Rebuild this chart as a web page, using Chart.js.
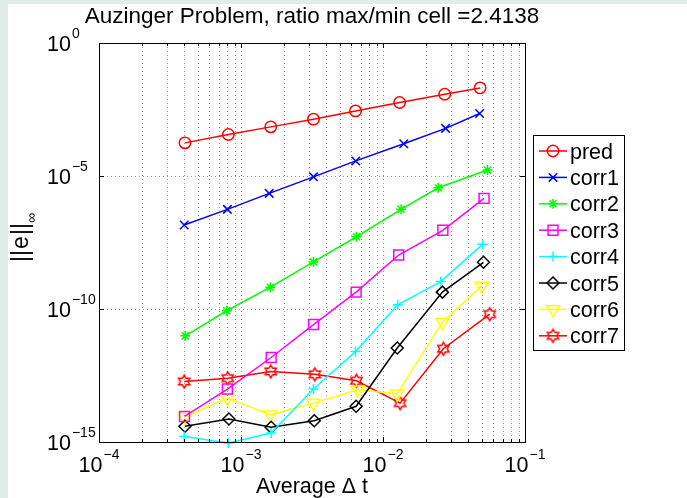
<!DOCTYPE html>
<html lang="en">

<head>
    <meta charset="UTF-8">
    <title>Auzinger Problem</title>
    <script src="https://cdn.jsdelivr.net/npm/chart.js"></script>
    <style>
        body { margin: 0; background: #ffffff; }
        canvas { display: block; }
    </style>
</head>

<body>
    <canvas id="errChart" width="687" height="498"></canvas>

    <script>
        // Average dt and max error per series
        const dtPred  = [4.03e-4, 8.15e-4, 1.62e-3, 3.24e-3, 6.40e-3, 1.31e-2, 2.72e-2, 4.83e-2];
        const errPred = [1.76e-4, 3.65e-4, 7.03e-4, 1.37e-3, 2.8e-3, 5.8e-3, 1.19e-2, 2.05e-2];
        const dtCorr1  = [3.98e-4, 8.02e-4, 1.58e-3, 3.24e-3, 6.43e-3, 1.40e-2, 2.76e-2, 4.79e-2];
        const errCorr1 = [1.44e-7, 5.57e-7, 2.22e-6, 9.3e-6, 3.69e-5, 1.64e-4, 6.18e-4, 2.24e-3];
        const dtCorr2  = [4.05e-4, 7.94e-4, 1.61e-3, 3.24e-3, 6.50e-3, 1.34e-2, 2.45e-2, 5.44e-2];
        const errCorr2 = [9.8e-12, 8.6e-11, 6.6e-10, 5.9e-9, 5.2e-8, 5.6e-7, 3.6e-6, 1.67e-5];
        const dtCorr3  = [4.0e-4, 8.02e-4, 1.63e-3, 3.24e-3, 6.47e-3, 1.29e-2, 2.64e-2, 5.15e-2];
        const errCorr3 = [9.1e-15, 9.8e-14, 1.5e-12, 2.6e-11, 4.3e-10, 1.07e-8, 9.1e-8, 1.44e-6];
        const dtCorr4  = [3.98e-4, 8.15e-4, 1.63e-3, 3.24e-3, 6.40e-3, 1.27e-2, 2.55e-2, 5.02e-2];
        const errCorr4 = [1.62e-15, 9.2e-16, 2.18e-15, 9.8e-14, 2.5e-12, 1.43e-10, 1.07e-9, 2.7e-8];
        const dtCorr5  = [4.03e-4, 8.22e-4, 1.63e-3, 3.28e-3, 6.47e-3, 1.26e-2, 2.62e-2, 5.10e-2];
        const errCorr5 = [3.9e-15, 7.3e-15, 3.6e-15, 6.3e-15, 2.2e-14, 3.4e-12, 4.3e-10, 5.7e-9];
        const dtCorr6  = [4.03e-4, 8.02e-4, 1.61e-3, 3.24e-3, 6.64e-3, 1.26e-2, 2.62e-2, 4.96e-2];
        const errCorr6 = [8.7e-15, 4.5e-14, 1.05e-14, 2.9e-14, 9.2e-14, 6.5e-14, 3.2e-11, 7.4e-10];
        const dtCorr7  = [3.98e-4, 8.07e-4, 1.62e-3, 3.31e-3, 6.50e-3, 1.32e-2, 2.66e-2, 5.65e-2];
        const errCorr7 = [1.88e-13, 2.5e-13, 4.5e-13, 3.5e-13, 2.0e-13, 2.9e-14, 3.2e-12, 6.4e-11];

        const seriesNames = ['pred', 'corr1', 'corr2', 'corr3', 'corr4', 'corr5', 'corr6', 'corr7'];
        const xTickExps = [-4, -3, -2, -1];
        const yTickExps = [-15, -10, -5, 0];

        const FONT = '"Liberation Sans", Arial, sans-serif';

        // MATLAB style hexagram marker
        function makeHexagram(color, r) {
            const size = Math.ceil(2 * r + 4);
            const c = document.createElement('canvas');
            c.width = size; c.height = size;
            const g = c.getContext('2d');
            const cx = size / 2, cy = size / 2, ri = r / Math.sqrt(3);
            g.beginPath();
            for (let k = 0; k < 12; k++) {
                const a = -Math.PI / 2 + k * Math.PI / 6;
                const rr = k % 2 === 0 ? r : ri;
                const px = cx + rr * Math.cos(a), py = cy + rr * Math.sin(a);
                if (k === 0) g.moveTo(px, py); else g.lineTo(px, py);
            }
            g.closePath();
            g.strokeStyle = color;
            g.lineWidth = 1.5;
            g.stroke();
            return c;
        }
        const hexRed = makeHexagram('#ff0000', 6.5);

        function zip(xs, ys) { return xs.map((x, i) => ({ x: x, y: ys[i] })); }

        const styles = [
            { color: '#ff0000', pointStyle: 'circle', radius: 5.7, rotation: 0 },
            { color: '#0000ff', pointStyle: 'crossRot', radius: 6, rotation: 0 },
            { color: '#00ff00', pointStyle: 'star', radius: 5, rotation: 0 },
            { color: '#ff00ff', pointStyle: 'rect', radius: 7, rotation: 0 },
            { color: '#00ffff', pointStyle: 'cross', radius: 5, rotation: 0 },
            { color: '#000000', pointStyle: 'rectRot', radius: 6, rotation: 0 },
            { color: '#ffff00', pointStyle: 'triangle', radius: 7.5, rotation: 180 },
            { color: '#ff0000', pointStyle: hexRed, radius: 6, rotation: 0 }
        ];
        const xs = [dtPred, dtCorr1, dtCorr2, dtCorr3, dtCorr4, dtCorr5, dtCorr6, dtCorr7];
        const ys = [errPred, errCorr1, errCorr2, errCorr3, errCorr4, errCorr5, errCorr6, errCorr7];

        const datasets = seriesNames.map((name, i) => ({
            label: name,
            data: zip(xs[i], ys[i]),
            borderColor: styles[i].color,
            backgroundColor: 'rgba(0,0,0,0)',
            borderWidth: 1.5,
            pointStyle: styles[i].pointStyle,
            pointRadius: styles[i].radius,
            pointRotation: styles[i].rotation,
            pointBorderColor: styles[i].color,
            pointBackgroundColor: 'rgba(0,0,0,0)',
            pointBorderWidth: 1.5,
            tension: 0,
            fill: false,
            clip: false
        }));

        function drawPower(ctx, exp, x, y, align) {
            // "10" with a superscript exponent; y is the baseline of "10"
            const base = '10', sup = exp === 0 ? '0' : '\u2212' + Math.abs(exp);
            ctx.font = '21.5px ' + FONT;
            const wb = ctx.measureText(base).width;
            ctx.font = '14px ' + FONT;
            const ws = ctx.measureText(sup).width;
            let x0 = x;
            if (align === 'center') x0 = x - (wb + ws + 1) / 2;
            ctx.textAlign = 'left';
            ctx.textBaseline = 'alphabetic';
            ctx.font = '21.5px ' + FONT;
            ctx.fillText(base, x0, y);
            ctx.font = '14px ' + FONT;
            ctx.fillText(sup, x0 + wb + 1, y - 13);
        }

        const matlabAxes = {
            id: 'matlabAxes',
            beforeDraw(chart) {
                const ctx = chart.ctx;
                ctx.save();
                ctx.fillStyle = '#e2ebe7';
                ctx.fillRect(0, 0, chart.width, chart.height);
                ctx.fillStyle = '#ffffff';
                ctx.fillRect(8, 4, chart.width - 8, chart.height - 4);
                ctx.restore();
            },
            beforeDatasetsDraw(chart) {
                const ctx = chart.ctx, a = chart.chartArea;
                const sx = chart.scales.x, sy = chart.scales.y;
                ctx.save();
                ctx.strokeStyle = '#9a9a9a';
                ctx.lineWidth = 1;
                ctx.setLineDash([1, 3]);
                // vertical grid: decades and their minor steps
                for (let e = -4; e < -1; e++) {
                    for (let m = 1; m <= 9; m++) {
                        const px = Math.round(sx.getPixelForValue(m * Math.pow(10, e))) + 0.5;
                        if (px <= a.left + 1) continue;
                        ctx.beginPath(); ctx.moveTo(px, a.top); ctx.lineTo(px, a.bottom); ctx.stroke();
                    }
                }
                // horizontal grid on the major decades only
                yTickExps.forEach(e => {
                    const py = Math.round(sy.getPixelForValue(Math.pow(10, e))) + 0.5;
                    if (py <= a.top + 1 || py >= a.bottom - 1) return;
                    ctx.beginPath(); ctx.moveTo(a.left, py); ctx.lineTo(a.right, py); ctx.stroke();
                });
                ctx.restore();
            },
            afterDraw(chart) {
                const ctx = chart.ctx, a = chart.chartArea;
                const sx = chart.scales.x, sy = chart.scales.y;
                ctx.save();
                ctx.setLineDash([]);
                ctx.strokeStyle = '#000';
                ctx.lineWidth = 1;
                // inward ticks on all four sides
                for (let e = -4; e <= -1; e++) {
                    for (let m = 1; m <= 9; m++) {
                        if (e === -1 && m > 1) break;
                        const px = Math.round(sx.getPixelForValue(m * Math.pow(10, e))) + 0.5;
                        const len = m === 1 ? 5 : 3;
                        ctx.beginPath();
                        ctx.moveTo(px, a.bottom); ctx.lineTo(px, a.bottom - len);
                        ctx.moveTo(px, a.top); ctx.lineTo(px, a.top + len);
                        ctx.stroke();
                    }
                }
                yTickExps.forEach(e => {
                    const py = Math.round(sy.getPixelForValue(Math.pow(10, e))) + 0.5;
                    ctx.beginPath();
                    ctx.moveTo(a.left, py); ctx.lineTo(a.left + 5, py);
                    ctx.moveTo(a.right, py); ctx.lineTo(a.right - 5, py);
                    ctx.stroke();
                });
                // axes box
                ctx.strokeRect(Math.round(a.left) + 0.5, Math.round(a.top) + 0.5,
                    Math.round(a.right - a.left), Math.round(a.bottom - a.top));

                // tick labels
                ctx.fillStyle = '#000';
                xTickExps.forEach(e => {
                    drawPower(ctx, e, sx.getPixelForValue(Math.pow(10, e)), a.bottom + 29.5, 'center');
                });
                yTickExps.forEach(e => {
                    drawPower(ctx, e, 47, sy.getPixelForValue(Math.pow(10, e)) + 8, 'left');
                });

                // title and axis labels
                ctx.textAlign = 'center';
                ctx.textBaseline = 'alphabetic';
                ctx.font = '22.5px ' + FONT;
                ctx.fillText('Auzinger Problem, ratio max/min cell =2.4138', (a.left + a.right) / 2, 23);
                ctx.font = '21.5px ' + FONT;
                ctx.fillText('Average \u0394 t', (a.left + a.right) / 2, 493);

                // ||e||_inf, rotated
                ctx.save();
                ctx.translate(28, 262);
                ctx.rotate(-Math.PI / 2);
                ctx.textAlign = 'left';
                ctx.font = '23px ' + FONT;
                ctx.fillText('||', 0, 0);
                ctx.fillText('e', 13, 0);
                ctx.fillText('||', 27, 0);
                ctx.font = '14px ' + FONT;
                ctx.fillText('\u221e', 39, 8);
                ctx.restore();

                // legend box
                const lx = 533.5, ly = 135.5, lw = 91, lh = 215;
                ctx.fillStyle = '#fff';
                ctx.fillRect(lx, ly, lw, lh);
                ctx.strokeStyle = '#000';
                ctx.strokeRect(lx, ly, lw, lh);
                chart.data.datasets.forEach((ds, i) => {
                    const cy = 151 + i * 26.4;
                    ctx.strokeStyle = ds.borderColor;
                    ctx.lineWidth = 1.5;
                    ctx.beginPath(); ctx.moveTo(539, cy); ctx.lineTo(567, cy); ctx.stroke();
                    ctx.fillStyle = 'rgba(0,0,0,0)';
                    Chart.helpers.drawPoint(ctx, {
                        pointStyle: ds.pointStyle,
                        rotation: ds.pointRotation,
                        radius: ds.pointRadius,
                        borderWidth: 1.5
                    }, 553, cy);
                    ctx.fillStyle = '#000';
                    ctx.font = '21.5px ' + FONT;
                    ctx.textAlign = 'left';
                    ctx.fillText(ds.label, 570, cy + 7.5);
                });
                ctx.restore();
            }
        };

        new Chart(document.getElementById('errChart').getContext('2d'), {
            type: 'line',
            data: { datasets: datasets },
            options: {
                responsive: false,
                animation: false,
                layout: { padding: { top: 43, right: 162, left: 0, bottom: 0 } },
                plugins: { legend: { display: false }, title: { display: false }, tooltip: { enabled: false } },
                scales: {
                    x: {
                        type: 'logarithmic', min: 1e-4, max: 1e-1,
                        ticks: { display: false }, grid: { display: false }, border: { display: false },
                        afterFit: s => { s.height = 56; }
                    },
                    y: {
                        type: 'logarithmic', min: 1e-15, max: 1,
                        ticks: { display: false }, grid: { display: false }, border: { display: false },
                        afterFit: s => { s.width = 99; }
                    }
                }
            },
            plugins: [matlabAxes]
        });
    </script>
</body>

</html>
